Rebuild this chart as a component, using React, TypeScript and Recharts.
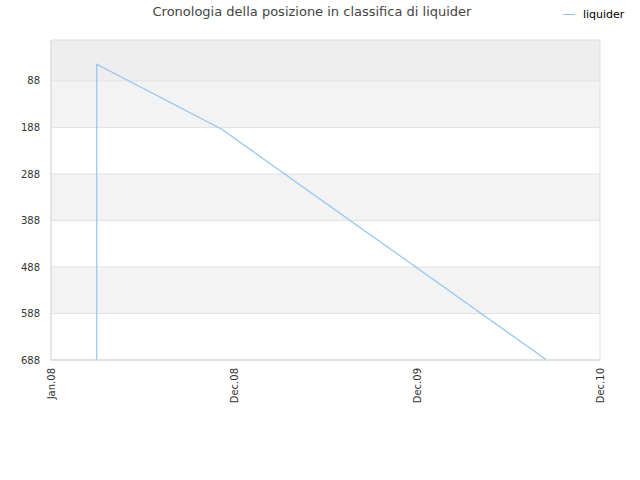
import { LineChart, Line, XAxis, YAxis, ReferenceArea, ReferenceLine } from 'recharts';

// month index since Jan.08, rank position
const months = [3.0, 3.0, 11.2, 32.5];
const positions = [688, 52, 192, 688];

const xTicks = [0, 12, 24, 36];
const xTickLabels = ['Jan.08', 'Dec.08', 'Dec.09', 'Dec.10'];
const yTicks = [88, 188, 288, 388, 488, 588, 688];

const data = months.map((m, i) => ({ month: m, liquider: positions[i] }));

// band edges built from the tick list (0 -> first tick, then tick to tick)
const bandEdges = [0, ...yTicks];
const bandColors = ['#eeeeee', '#f3f3f3', '#ffffff'];

const FONT = '"DejaVu Sans", sans-serif';
const LINE_COLOR = '#92c3f3';

const XTick = (props: any) => {
  const { x, y, payload } = props;
  const idx = xTicks.indexOf(payload.value);
  return (
    <text
      x={x}
      y={y}
      transform={`rotate(-90, ${x}, ${y})`}
      textAnchor="end"
      dominantBaseline="central"
      fontSize={10}
      fontFamily={FONT}
      fill="#333"
    >
      {xTickLabels[idx]}
    </text>
  );
};

export default function App() {
  return (
    <div style={{ position: 'absolute', left: 0, top: 0, width: 640, height: 480, background: '#fff' }}>
      <div
        style={{
          position: 'absolute',
          top: 4,
          left: -8,
          width: 640,
          textAlign: 'center',
          fontFamily: FONT,
          fontSize: 13,
          color: '#444',
        }}
      >
        Cronologia della posizione in classifica di liquider
      </div>
      <div
        style={{
          position: 'absolute',
          top: 8,
          left: 563,
          display: 'flex',
          alignItems: 'center',
          fontFamily: FONT,
          fontSize: 11,
          color: '#000',
        }}
      >
        <span style={{ display: 'inline-block', width: 12, height: 1, background: LINE_COLOR, marginRight: 8 }} />
        <span>liquider</span>
      </div>
      <LineChart width={640} height={480} data={data} margin={{ top: 40, right: 40, left: 0, bottom: 0 }}>
        {bandEdges.slice(0, -1).map((edge, i) => (
          <ReferenceArea
            key={`band-${edge}`}
            x1={0}
            x2={36}
            y1={edge}
            y2={bandEdges[i + 1]}
            fill={i === 0 ? bandColors[0] : i % 2 === 1 ? bandColors[1] : bandColors[2]}
            fillOpacity={1}
            stroke="none"
            ifOverflow="hidden"
          />
        ))}
        {yTicks.map((t) => (
          <ReferenceLine key={`grid-${t}`} y={t} stroke="#e2e2e2" />
        ))}
        <ReferenceArea x1={0} x2={36} y1={0} y2={688} fill="none" stroke="#dddddd" />
        <XAxis
          dataKey="month"
          type="number"
          domain={[0, 36]}
          ticks={xTicks}
          height={120}
          axisLine={{ stroke: '#dddddd' }}
          tickLine={false}
          tick={<XTick />}
          interval={0}
        />
        <YAxis
          type="number"
          domain={[0, 688]}
          reversed
          ticks={yTicks}
          width={51}
          axisLine={{ stroke: '#dddddd' }}
          tickLine={false}
          tickMargin={5}
          tick={{ fontSize: 10, fontFamily: FONT, fill: '#333' }}
          interval={0}
        />
        <Line
          type="linear"
          dataKey="liquider"
          stroke={LINE_COLOR}
          strokeWidth={1.2}
          dot={false}
          isAnimationActive={false}
        />
      </LineChart>
    </div>
  );
}
